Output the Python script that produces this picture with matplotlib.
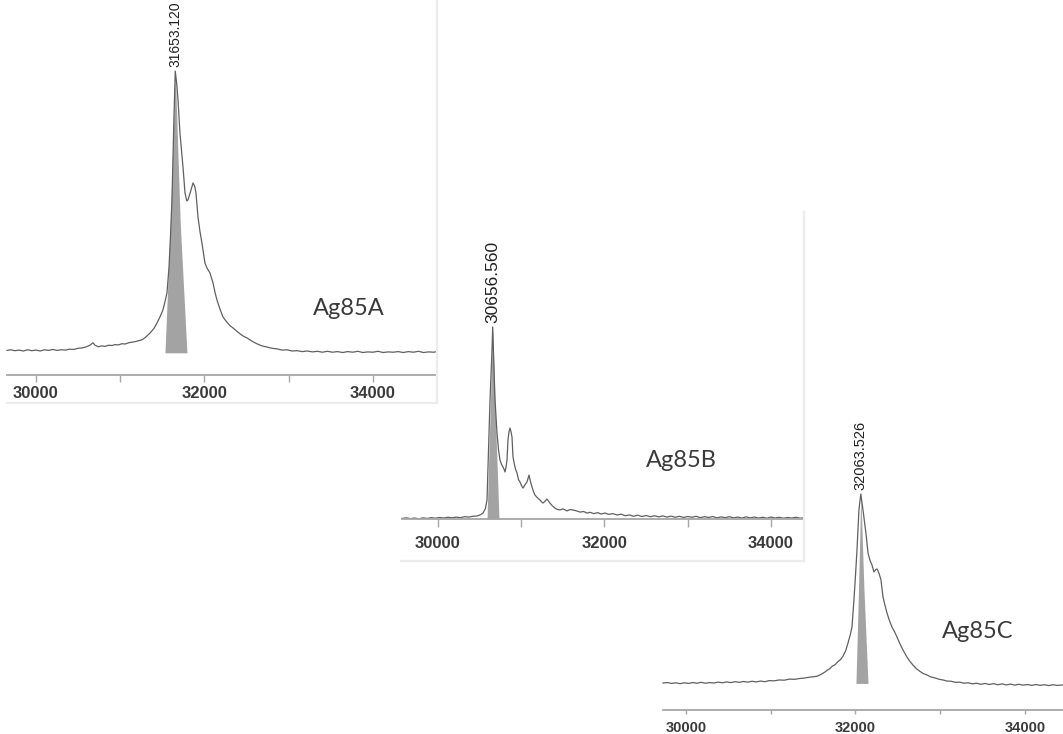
import numpy as np
import matplotlib.pyplot as plt
from matplotlib.lines import Line2D
from matplotlib.ticker import FixedLocator

plt.rcParams['font.family'] = ['Liberation Sans', 'DejaVu Sans']

W, H = 1063, 734

# Ag85A spectrum (mass, relative intensity)
mass_a = [29656, 29700, 29750, 29800, 29850, 29900, 29950, 30000, 30050, 30100,
          30150, 30200, 30250, 30300, 30350, 30400, 30450, 30500, 30550, 30600,
          30640, 30677, 30700, 30740, 30780, 30820, 30860, 30900, 30940, 30980,
          31020, 31060, 31100, 31140, 31180, 31220, 31260, 31300, 31353, 31400,
          31436, 31470, 31507, 31530, 31555, 31579, 31597, 31614, 31638, 31653,
          31670, 31686, 31709, 31745, 31769, 31790, 31804, 31825, 31840, 31864,
          31885, 31899, 31923, 31945, 31970, 32006, 32030, 32065, 32101, 32125,
          32148, 32185, 32220, 32260, 32300, 32338, 32380, 32420, 32460, 32505,
          32560, 32620, 32680, 32742, 32800, 32860, 32920, 32980, 33040, 33100,
          33160, 33220, 33280, 33340, 33400, 33460, 33520, 33580, 33640, 33700,
          33760, 33820, 33880, 33940, 34000, 34060, 34120, 34180, 34240, 34300,
          34360, 34420, 34480, 34540, 34600, 34660, 34720, 34760]
int_a = [8.1, 8.3, 8.0, 8.2, 7.9, 8.3, 8.0, 8.2, 7.9, 8.3,
         8.1, 8.4, 8.1, 8.3, 8.2, 8.5, 8.4, 8.8, 8.9, 9.3,
         9.8, 10.6, 9.8, 9.3, 9.6, 9.4, 9.8, 9.7, 10.0, 9.9,
         10.3, 10.2, 10.6, 10.8, 11.0, 11.3, 11.6, 12.4, 13.8, 15.3,
         17.1, 19.0, 21.4, 24.0, 27.0, 35.5, 46.0, 57.6, 84.9, 100.0,
         96.0, 90.5, 79.6, 68.4, 59.9, 57.3, 57.6, 59.5, 60.9, 63.2,
         62.0, 59.9, 52.0, 47.5, 43.4, 36.8, 35.2, 33.6, 30.3, 27.2,
         24.7, 21.6, 19.1, 17.6, 16.3, 15.5, 14.5, 13.6, 12.8, 12.2,
         11.2, 10.3, 9.6, 9.2, 8.8, 8.6, 8.2, 8.3, 7.9, 8.0,
         7.7, 7.9, 7.6, 7.8, 7.5, 7.8, 7.5, 7.7, 7.4, 7.7,
         7.5, 7.8, 7.4, 7.6, 7.5, 7.8, 7.4, 7.6, 7.5, 7.7,
         7.4, 7.7, 7.5, 7.8, 7.4, 7.6, 7.5, 7.7]
fit_mass_a = [31531, 31595, 31653, 31712, 31792]
fit_int_a = [7.3, 50, 100, 50, 7.3]

# Ag85B spectrum
mass_b = [29568, 29620, 29670, 29720, 29770, 29820, 29870, 29920, 29970, 30020,
          30070, 30120, 30170, 30220, 30270, 30320, 30370, 30420, 30470, 30510,
          30541, 30570, 30589, 30601, 30625, 30649, 30657, 30673, 30685, 30709,
          30727, 30745, 30763, 30781, 30795, 30805, 30817, 30829, 30841, 30853,
          30865, 30877, 30889, 30901, 30920, 30935, 30949, 30967, 30985, 31003,
          31021, 31045, 31069, 31081, 31093, 31111, 31129, 31147, 31165, 31195,
          31225, 31243, 31261, 31285, 31309, 31327, 31345, 31375, 31405, 31435,
          31465, 31500, 31550, 31585, 31622, 31665, 31706, 31750, 31790, 31826,
          31870, 31920, 31960, 32006, 32050, 32100, 32150, 32200, 32250, 32300,
          32350, 32400, 32450, 32500, 32550, 32600, 32650, 32700, 32750, 32800,
          32850, 32900, 32950, 33000, 33050, 33100, 33150, 33200, 33250, 33300,
          33350, 33400, 33450, 33500, 33550, 33600, 33650, 33700, 33750, 33800,
          33850, 33900, 33950, 34000, 34050, 34100, 34150, 34200, 34250, 34300,
          34350, 34384]
int_b = [0.3, 0.6, 0.2, 0.5, 0.1, 0.6, 0.3, 0.7, 0.4, 0.8,
         0.5, 0.9, 0.6, 1.0, 0.7, 1.2, 1.0, 1.4, 1.6, 2.2,
         3.1, 5.5, 9.9, 27.1, 62.0, 88.0, 100.0, 79.2, 62.0, 44.8,
         36.0, 30.7, 28.5, 27.1, 25.8, 24.5, 27.0, 30.7, 41.1, 45.5,
         47.4, 45.5, 42.7, 32.3, 28.0, 25.5, 24.0, 20.5, 19.3, 17.5,
         16.1, 17.8, 19.3, 21.0, 22.9, 19.5, 16.7, 14.3, 12.5, 11.0,
         9.9, 9.0, 8.3, 9.2, 10.4, 9.3, 8.3, 6.8, 5.7, 5.0,
         4.7, 5.3, 4.2, 4.9, 4.7, 4.2, 3.6, 3.9, 3.1, 3.5,
         2.8, 3.3, 2.6, 3.1, 2.4, 2.8, 2.1, 2.5, 1.7, 2.1,
         1.4, 2.0, 1.3, 1.8, 1.2, 1.7, 1.1, 1.6, 1.0, 1.5,
         0.9, 1.4, 0.8, 1.3, 0.9, 1.4, 0.7, 1.2, 0.8, 1.3,
         0.6, 1.1, 0.7, 1.2, 0.6, 1.0, 0.5, 1.1, 0.6, 1.0,
         0.5, 0.9, 0.4, 1.0, 0.5, 0.9, 0.4, 0.8, 0.5, 0.9,
         0.4, 0.6]
fit_mass_b = [30589, 30622, 30657, 30692, 30733]
fit_int_b = [0.0, 50, 100, 50, 0.0]

# Ag85C spectrum
mass_c = [29729, 29780, 29830, 29880, 29930, 29980, 30030, 30080, 30130, 30180,
          30230, 30280, 30330, 30380, 30430, 30480, 30530, 30580, 30630, 30680,
          30730, 30780, 30830, 30880, 30930, 30980, 31040, 31100, 31160, 31220,
          31280, 31345, 31400, 31460, 31546, 31600, 31640, 31664, 31700, 31723,
          31760, 31794, 31825, 31853, 31885, 31912, 31940, 31959, 31982, 32000,
          32018, 32041, 32063, 32089, 32110, 32124, 32148, 32172, 32195, 32218,
          32240, 32254, 32266, 32280, 32301, 32325, 32350, 32372, 32400, 32431,
          32460, 32490, 32525, 32561, 32600, 32640, 32679, 32720, 32760, 32800,
          32844, 32890, 32940, 32990, 33033, 33080, 33130, 33180, 33230, 33280,
          33330, 33380, 33430, 33480, 33530, 33580, 33630, 33680, 33730, 33780,
          33830, 33880, 33930, 33980, 34030, 34080, 34130, 34180, 34230, 34280,
          34330, 34380, 34449]
int_c = [12.5, 12.7, 12.3, 12.6, 12.2, 12.6, 12.3, 12.7, 12.4, 12.8,
         12.4, 12.7, 12.5, 12.9, 12.6, 13.0, 12.7, 13.1, 12.8, 13.2,
         12.9, 13.3, 13.0, 13.4, 13.1, 13.6, 13.5, 13.9, 13.8, 14.3,
         14.2, 14.6, 14.8, 15.2, 15.6, 16.6, 17.6, 18.3, 19.2, 20.2,
         21.0, 22.4, 23.4, 24.9, 27.5, 31.0, 35.0, 38.4, 50.9, 62.0,
         74.1, 92.6, 100.0, 92.6, 86.0, 81.9, 72.7, 69.2, 67.1, 63.9,
         65.0, 65.3, 64.4, 63.0, 60.2, 52.3, 48.2, 44.9, 41.5, 38.4,
         36.3, 33.8, 30.6, 27.8, 25.0, 22.6, 20.8, 19.1, 17.9, 16.9,
         16.2, 15.3, 14.8, 14.2, 13.9, 13.4, 13.3, 12.8, 12.9, 12.4,
         12.6, 12.1, 12.4, 11.9, 12.3, 11.8, 12.2, 11.7, 12.1, 11.6,
         12.0, 11.5, 11.9, 11.5, 11.8, 11.4, 11.8, 11.4, 11.7, 11.3,
         11.7, 11.4, 11.6]
fit_mass_c = [32006, 32036, 32063, 32100, 32148]
fit_int_c = [12.3, 56, 100, 56, 12.3]

tick_major = [30000, 32000, 34000]
tick_labels = ['30000', '32000', '34000']
tick_minor = [31000, 33000]

fig = plt.figure(figsize=(W / 100, H / 100), dpi=100)
fig.patch.set_facecolor('white')


def add_panel(x0, x1, y_axis, y_top, xlim, ytop, z, tick_len, pad, tick_fs):
    ax = fig.add_axes([x0 / W, 1 - y_axis / H, (x1 - x0) / W, (y_axis - y_top) / H])
    ax.set_zorder(z)
    ax.patch.set_alpha(0)
    ax.set_xlim(*xlim)
    ax.set_ylim(0, ytop)
    for s in ['top', 'left', 'right']:
        ax.spines[s].set_visible(False)
    ax.spines['bottom'].set_color('#a6a6a6')
    ax.spines['bottom'].set_linewidth(1.3)
    ax.set_yticks([])
    ax.set_xticks(tick_major)
    ax.set_xticklabels(tick_labels, fontweight='bold')
    ax.xaxis.set_minor_locator(FixedLocator(tick_minor))
    ax.tick_params(axis='x', which='major', direction='out', length=tick_len,
                   width=1, color='#a6a6a6', pad=pad, labelsize=tick_fs,
                   labelcolor='#3a3a3a')
    ax.tick_params(axis='x', which='minor', direction='out', length=tick_len,
                   width=1, color='#a6a6a6')
    return ax


def draw_spectrum(ax, mass, inten, fit_m, fit_i, base, label, label_fs):
    ax.fill_between(fit_m, fit_i, base, color='#a3a3a3', lw=0, zorder=1)
    ax.plot(mass, inten, color='#606060', lw=0.9, zorder=2, clip_on=False)
    k = int(np.argmax(inten))
    ax.annotate(label, (mass[k], inten[k]), xytext=(0, 3),
                textcoords='offset points', rotation=90, ha='center',
                va='bottom', fontsize=label_fs, color='#202020',
                annotation_clip=False)


def frame(x_right, y_top, x_left, y_bottom):
    c = '#ececec'
    fig.add_artist(Line2D([x_right / W, x_right / W], [1 - y_top / H, 1 - y_bottom / H],
                          color=c, lw=1.6, transform=fig.transFigure, zorder=20))
    fig.add_artist(Line2D([x_left / W, x_right / W], [1 - y_bottom / H, 1 - y_bottom / H],
                          color=c, lw=1.6, transform=fig.transFigure, zorder=20))


ax_c = add_panel(663, 1063, 710, 400, (29729, 34449), 143.5, 1, 3, 5, 10.5)
draw_spectrum(ax_c, mass_c, int_c, fit_mass_c, fit_int_c, 12.3, '32063.526', 10.5)

ax_b = add_panel(402, 803, 519, 213, (29568, 34384), 159.4, 2, 6, 6, 12)
draw_spectrum(ax_b, mass_b, int_b, fit_mass_b, fit_int_b, 0.0, '30656.560', 12.5)

ax_a = add_panel(7, 437, 375, 0, (29656, 34760), 123.4, 3, 5, 3, 12)
draw_spectrum(ax_a, mass_a, int_a, fit_mass_a, fit_int_a, 7.3, '31653.120', 10)

frame(804, 212, 401, 561)
frame(437, 0, 7, 403)

name_font = dict(family=['Lato', 'DejaVu Sans'], fontsize=17, color='#3a3a3a', va='baseline')
fig.text(313 / W, 1 - 315 / H, 'Ag85A', **name_font)
fig.text(646 / W, 1 - 467 / H, 'Ag85B', **name_font)
fig.text(942 / W, 1 - 638 / H, 'Ag85C', **name_font)

fig.savefig('out.png', dpi=100)
